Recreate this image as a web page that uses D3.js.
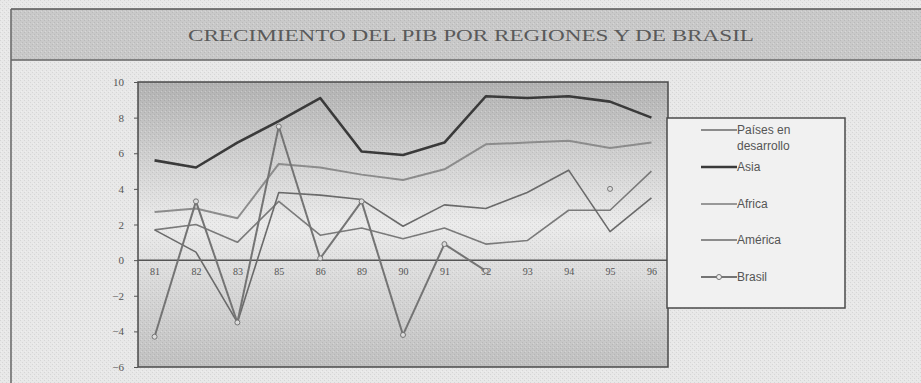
<!DOCTYPE html>
<html>
<head>
<meta charset="utf-8">
<script src="https://cdn.jsdelivr.net/npm/d3@7"></script>
<style>
  body { margin: 0; background: #e9e9e9; }
  svg { display: block; }
</style>
</head>
<body>
<div id="chart"></div>
<script>
var years = ['81', '82', '83', '85', '86', '89', '90', '91', '92', '93', '94', '95', '96'];
var yTicks = [10, 8, 6, 4, 2, 0, -2, -4, -6];

var paises  = [2.7, 2.9, 2.35, 5.4, 5.2, 4.8, 4.5, 5.1, 6.5, 6.6, 6.7, 6.3, 6.6];
var asia    = [5.6, 5.2, 6.6, 7.8, 9.1, 6.1, 5.9, 6.6, 9.2, 9.1, 9.2, 8.9, 8.0];
var africa  = [1.7, 2.0, 1.0, 3.3, 1.4, 1.8, 1.2, 1.8, 0.9, 1.1, 2.8, 2.8, 5.0];
var america = [1.7, 0.45, -3.5, 3.8, 3.65, 3.4, 1.9, 3.1, 2.9, 3.8, 5.05, 1.6, 3.5];
var brasil  = [-4.3, 3.3, -3.5, 7.5, 0.1, 3.3, -4.2, 0.9, -0.6, null, null, 4.0, null];

var series = [
  { name: 'Países en desarrollo', values: paises, color: '#8c8c8c', width: 2 },
  { name: 'Asia', values: asia, color: '#3a3a3a', width: 2.6 },
  { name: 'Africa', values: africa, color: '#7a7a7a', width: 1.6 },
  { name: 'América', values: america, color: '#6a6a6a', width: 1.6 },
  { name: 'Brasil', values: brasil, color: '#747474', width: 2, marker: true }
];

var W = 921, H = 383;
var plot = { left: 138, right: 668, top: 82, bottom: 367 };

var svg = d3.select('#chart').append('svg')
  .attr('width', W)
  .attr('height', H);

var defs = svg.append('defs');

// dither-like texture of the scan
var pat = defs.append('pattern')
  .attr('id', 'dots')
  .attr('width', 4).attr('height', 4)
  .attr('patternUnits', 'userSpaceOnUse');
pat.append('rect').attr('x', 0).attr('y', 0).attr('width', 1).attr('height', 1).attr('fill', '#000').attr('opacity', 0.08);
pat.append('rect').attr('x', 2).attr('y', 2).attr('width', 1).attr('height', 1).attr('fill', '#000').attr('opacity', 0.08);
pat.append('rect').attr('x', 1).attr('y', 3).attr('width', 1).attr('height', 1).attr('fill', '#fff').attr('opacity', 0.25);

var grad = defs.append('linearGradient')
  .attr('id', 'plotbg')
  .attr('x1', 0).attr('y1', 0).attr('x2', 0).attr('y2', 1);
grad.append('stop').attr('offset', '0%').attr('stop-color', '#b2b2b2');
grad.append('stop').attr('offset', '50%').attr('stop-color', '#ebebeb');
grad.append('stop').attr('offset', '100%').attr('stop-color', '#c0c0c0');

// page background
svg.append('rect').attr('width', W).attr('height', H).attr('fill', '#e8e8e8');
svg.append('rect').attr('width', W).attr('height', H).attr('fill', 'url(#dots)');

// outer frame + title banner
svg.append('rect')
  .attr('x', 11).attr('y', 9)
  .attr('width', W).attr('height', 51)
  .attr('fill', '#c9c9c9');
svg.append('rect')
  .attr('x', 11).attr('y', 9)
  .attr('width', W).attr('height', 51)
  .attr('fill', 'url(#dots)');
svg.append('line')
  .attr('x1', 11).attr('x2', W).attr('y1', 9).attr('y2', 9)
  .attr('stroke', '#555').attr('stroke-width', 1.5);
svg.append('line')
  .attr('x1', 11).attr('x2', W).attr('y1', 60).attr('y2', 60)
  .attr('stroke', '#666').attr('stroke-width', 1.5);
svg.append('line')
  .attr('x1', 11).attr('x2', 11).attr('y1', 9).attr('y2', H)
  .attr('stroke', '#666').attr('stroke-width', 1.5);

svg.append('text')
  .attr('x', 471)
  .attr('y', 41)
  .attr('text-anchor', 'middle')
  .attr('font-family', 'Liberation Serif, DejaVu Serif, serif')
  .attr('font-size', '16px')
  .attr('fill', '#5a5a5a')
  .attr('textLength', 566)
  .attr('lengthAdjust', 'spacingAndGlyphs')
  .text('CRECIMIENTO DEL PIB POR REGIONES Y DE BRASIL');

var x = d3.scalePoint()
  .domain(years)
  .range([plot.left, plot.right])
  .padding(0.4);

var y = d3.scaleLinear()
  .domain([-6, 10])
  .range([plot.bottom, plot.top]);

// plot area
svg.append('rect')
  .attr('x', plot.left).attr('y', plot.top)
  .attr('width', plot.right - plot.left).attr('height', plot.bottom - plot.top)
  .attr('fill', 'url(#plotbg)');
svg.append('rect')
  .attr('x', plot.left).attr('y', plot.top)
  .attr('width', plot.right - plot.left).attr('height', plot.bottom - plot.top)
  .attr('fill', 'url(#dots)');
svg.append('rect')
  .attr('x', plot.left).attr('y', plot.top)
  .attr('width', plot.right - plot.left).attr('height', plot.bottom - plot.top)
  .attr('fill', 'none')
  .attr('stroke', '#4a4a4a')
  .attr('stroke-width', 1.5);

// y axis
var yAxis = d3.axisLeft(y).tickValues(yTicks).tickSize(4).tickPadding(10);
var gy = svg.append('g')
  .attr('transform', 'translate(' + plot.left + ',0)')
  .call(yAxis);
gy.select('.domain').remove();
gy.selectAll('line').attr('stroke', '#555');
gy.selectAll('text')
  .attr('font-family', 'Liberation Serif, serif')
  .attr('font-size', '11px')
  .attr('fill', '#555');

// zero axis with category labels below it
var xAxis = d3.axisBottom(x).tickSize(0).tickPadding(8);
var gx = svg.append('g')
  .attr('transform', 'translate(0,' + y(0) + ')')
  .call(xAxis);
gx.select('.domain').remove();
gx.selectAll('text')
  .attr('font-family', 'Liberation Serif, serif')
  .attr('font-size', '10px')
  .attr('fill', '#555');

svg.append('line')
  .attr('x1', plot.left).attr('x2', plot.right)
  .attr('y1', y(0)).attr('y2', y(0))
  .attr('stroke', '#555').attr('stroke-width', 1.5);

// lines
var line = d3.line()
  .defined(function (d) { return d != null; })
  .x(function (d, i) { return x(years[i]); })
  .y(function (d) { return y(d); });

series.forEach(function (s) {
  svg.append('path')
    .datum(s.values)
    .attr('fill', 'none')
    .attr('stroke', s.color)
    .attr('stroke-width', s.width)
    .attr('stroke-linejoin', 'round')
    .attr('d', line);
  if (s.marker) {
    svg.selectAll('.marker')
      .data(s.values.map(function (v, i) { return { v: v, i: i }; }).filter(function (d) { return d.v != null; }))
      .enter().append('circle')
      .attr('class', 'marker')
      .attr('cx', function (d) { return x(years[d.i]); })
      .attr('cy', function (d) { return y(d.v); })
      .attr('r', 2.5)
      .attr('fill', '#dcdcdc')
      .attr('stroke', s.color)
      .attr('stroke-width', 1);
  }
});

// legend
var lg = svg.append('g');
lg.append('rect')
  .attr('x', 667).attr('y', 118)
  .attr('width', 178).attr('height', 190)
  .attr('fill', '#f1f1f1')
  .attr('stroke', '#4a4a4a')
  .attr('stroke-width', 1.5);

var legendY = [130, 167, 204, 240, 277];
series.forEach(function (s, i) {
  var yy = legendY[i];
  lg.append('line')
    .attr('x1', 701).attr('x2', 737)
    .attr('y1', yy).attr('y2', yy)
    .attr('stroke', s.color)
    .attr('stroke-width', s.width);
  if (s.marker) {
    lg.append('circle')
      .attr('cx', 719).attr('cy', yy).attr('r', 2.5)
      .attr('fill', '#f1f1f1')
      .attr('stroke', s.color).attr('stroke-width', 1);
  }
  var t = lg.append('text')
    .attr('x', 737)
    .attr('y', yy + 4)
    .attr('font-family', 'Liberation Sans, Arial, sans-serif')
    .attr('font-size', '12px')
    .attr('fill', '#555');
  if (i === 0) {
    t.append('tspan').text('Países en');
    t.append('tspan').attr('x', 737).attr('dy', 16).text('desarrollo');
  } else {
    t.text(s.name);
  }
});
</script>
</body>
</html>
